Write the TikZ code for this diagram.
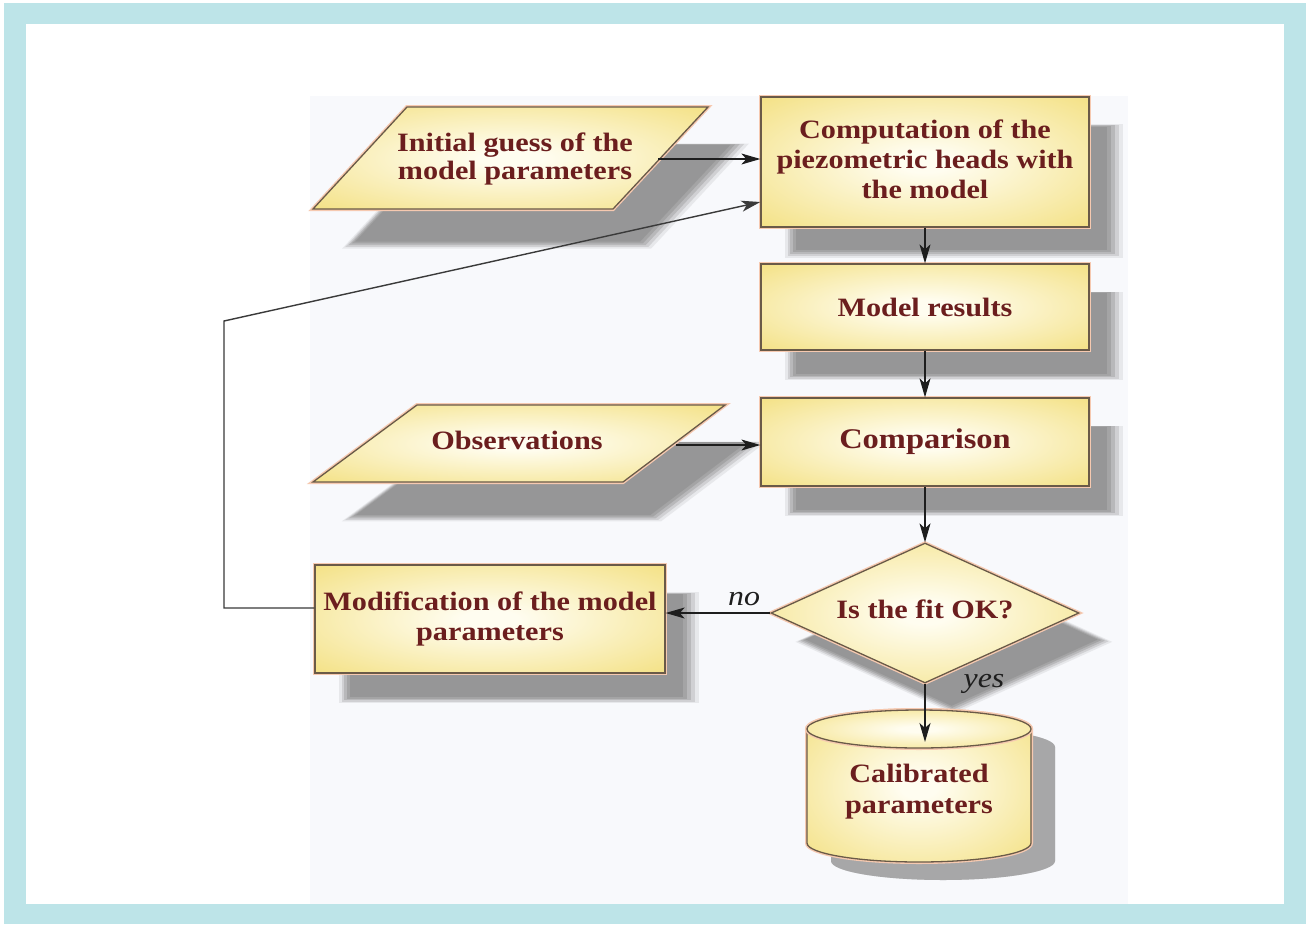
\documentclass[tikz,border=0pt]{standalone}
\usepackage{fontspec}
\setmainfont{Liberation Serif}[FakeStretch=1.14]
\usetikzlibrary{shapes.geometric,arrows.meta,shadows}
\definecolor{frameblue}{HTML}{BDE4E8}
\definecolor{panel}{HTML}{F8F9FC}
\definecolor{glowin}{HTML}{FFFDF0}
\definecolor{glowout}{HTML}{F0D862}
\definecolor{edge}{HTML}{6A5A48}
\definecolor{halo}{HTML}{F6C9B0}
\definecolor{txt}{HTML}{6B1E1E}
\definecolor{conn}{HTML}{1E1E1E}
\definecolor{fbline}{HTML}{3A3A3A}
\pgfdeclareradialshading{glow}{\pgfpoint{0bp}{0bp}}{color(0bp)=(glowin); color(4bp)=(glowin); color(46bp)=(glowout); color(75bp)=(glowout)}
\tikzset{
  sh/.style n args={3}{general shadow={fill=black!45, opacity=#3, shadow xshift=#1, shadow yshift=#2}},
  softshadow/.style 2 args={
    general shadow={fill=black!45, opacity=0.15, shadow xshift=#1, shadow yshift=#2, shadow scale=1.03},
    general shadow={fill=black!45, opacity=0.25, shadow xshift=#1, shadow yshift=#2, shadow scale=1.01},
    general shadow={fill=black!45, opacity=0.35, shadow xshift=#1, shadow yshift=#2, shadow scale=0.99},
    general shadow={fill=black!45, opacity=0.45, shadow xshift=#1, shadow yshift=#2, shadow scale=0.97},
    general shadow={fill=black!45, opacity=0.55, shadow xshift=#1, shadow yshift=#2, shadow scale=0.95}},
  look/.style={preaction={draw=halo, line width=4pt},
    shade, shading=glow, draw=edge, line width=1.3pt},
  shapebase/.style={softshadow={28pt}{-28pt}, look, text=txt,
    font=\bfseries\fontsize{26.5}{30}\selectfont, align=center, inner sep=0pt},
  box/.style={shapebase, rectangle},
  decision/.style={shapebase, diamond},
  parashape/.style={softshadow={34pt}{-37pt}, look},
  ptext/.style={text=txt, font=\bfseries\fontsize{26.5}{28}\selectfont, align=center, inner sep=0pt},
  arr/.style={draw=conn, line width=1.3pt, -{Stealth[length=19pt,width=11pt,inset=5pt]}},
  fb/.style={draw=fbline, line width=1.4pt, -{Stealth[length=19pt,width=11pt,inset=5pt]}},
  lbl/.style={font=\itshape\fontsize{28}{30}\selectfont, text=conn, inner sep=0pt},
  cyltext/.style={text=txt, font=\bfseries\fontsize{26.5}{31}\selectfont, align=center, inner sep=0pt}
}
\begin{document}
\begin{tikzpicture}[x=1pt,y=-1pt]
\useasboundingbox (0,0) rectangle (1306,924);
\fill[white] (0,0) rectangle (1306,924);
\fill[frameblue] (4,3) rectangle (1306,924);
\fill[white] (26,24) rectangle (1284,904);
\fill[panel] (310,96) rectangle (1128,904);

% parallelograms (input data)
\path[parashape] (407,107) -- (708,107) -- (613,209) -- (313,209) -- cycle;
\node[ptext, minimum width=286pt] (init) at (515,159) {Initial guess of the\\model parameters};
\path[parashape] (417,405) -- (725,405) -- (623,482) -- (313,482) -- cycle;
\node[ptext, minimum width=318pt] (obs) at (517,445) {\raisebox{10pt}{Observations}};

% process boxes
\node[box, minimum width=328pt, minimum height=130pt] (comp) at (925,162) {\raisebox{5pt}{\begin{tabular}{@{}c@{}}Computation of the\\piezometric heads with\\the model\end{tabular}}};
\node[box, minimum width=328pt, minimum height=86pt] (res) at (925,307) {Model results};
\node[box, minimum width=328pt, minimum height=88pt, font=\bfseries\fontsize{28.5}{31}\selectfont] (cmp) at (925,442) {\raisebox{6pt}{Comparison}};
\node[decision, aspect=2.2, minimum width=308pt, minimum height=140pt] (fit) at (925,613) {\raisebox{8pt}{Is the fit OK?}};
\node[box, minimum width=350pt, minimum height=108pt] (mod) at (490,619) {Modification of the model\\parameters};

% cylinder (calibrated parameters)
\begin{scope}[shift={(24,18)}]
  \foreach \op in {0.2,0.35,0.5}{
    \fill[black!45, opacity=\op] (807,729) -- (807,843) arc[start angle=180, end angle=0, x radius=112, y radius=19] -- (1031,729) arc[start angle=0, end angle=-180, x radius=112, y radius=19] -- cycle;}
\end{scope}
\path[look] (807,729) -- (807,843) arc[start angle=180, end angle=0, x radius=112, y radius=19] -- (1031,729) arc[start angle=0, end angle=-180, x radius=112, y radius=19] -- cycle;
\path[look] (919,729) ellipse[x radius=112, y radius=19];
\node[cyltext] (cal) at (919,792) {Calibrated\\parameters};
\coordinate (calin) at (925,742);

% connectors
\draw[arr] (init.east) -- (init.east -| comp.west);
\draw[arr] (comp.south) -- (res.north);
\draw[arr] (res.south) -- (cmp.north);
\draw[arr] (obs.east) -- (obs.east -| cmp.west);
\draw[arr] (cmp.south) -- (fit.north);
\draw[arr] (fit.west) -- (fit.west -| mod.east);
\draw[arr] (fit.south) -- (calin);
\coordinate (fb1) at (224,321);
\draw[fb] ([yshift=11pt]mod.west) -| (fb1) -- ([yshift=-40pt]comp.west);

\node[lbl] (nolbl) at (744,599) {no};
\node[lbl] (yeslbl) at (984,684) {yes};
\end{tikzpicture}
\end{document}
